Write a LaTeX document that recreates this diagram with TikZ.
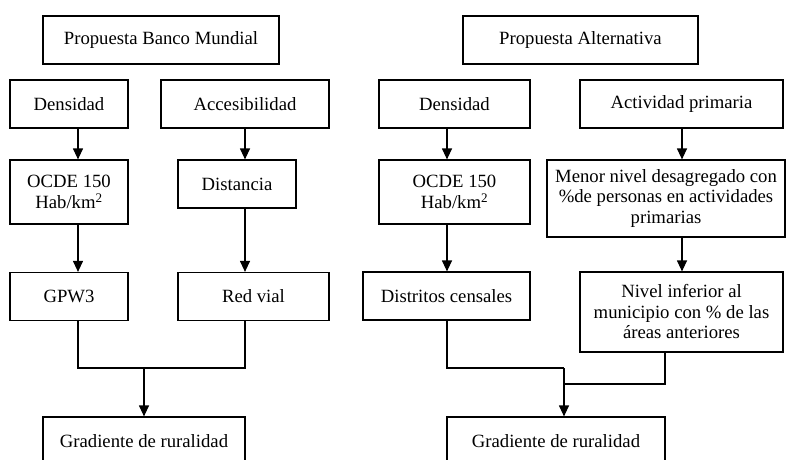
\documentclass[tikz,border=0pt]{standalone}
\usepackage{fontspec}
\setmainfont{Liberation Serif}
\usetikzlibrary{arrows.meta}
\begin{document}
\begin{tikzpicture}[x=1pt,y=-1pt,
  box/.style={draw, line width=1.2pt, inner sep=0pt, align=center, minimum height=48pt,
    font=\fontsize{18.7}{20.5}\selectfont},
  link/.style={line width=1.2pt},
  arr/.style={line width=1.2pt, -{Triangle[width=10pt,length=11pt]}}]
\path[use as bounding box, clip] (0,0) rectangle (787,460);
% left column
\node[box, minimum width=236pt] (pbm) at (161,40) {Propuesta Banco Mundial};
\node[box, minimum width=118pt] (dl) at (69,104) {Densidad};
\node[box, minimum width=168pt] (acc) at (245,104) {Accesibilidad};
\node[box, minimum width=118pt, minimum height=64pt] (ol) at (69,192) {OCDE 150\\Hab/km\textsuperscript{2}};
\node[box, minimum width=118pt] (dis) at (237,184) {Distancia};
\node[box, minimum width=118pt] (gpw) at (69,296.5) {GPW3};
\node[box, minimum width=151pt] (rv) at (253.5,296.5) {Red vial};
\node[box, minimum width=202pt] (gl) at (144,441) {Gradiente de ruralidad};
% right column
\node[box, minimum width=235pt] (pa) at (580.5,40) {Propuesta Alternativa};
\node[box, minimum width=151pt] (dr) at (454.5,104) {Densidad};
\node[box, minimum width=203pt] (act) at (681.5,104) {Actividad primaria};
\node[box, minimum width=151pt, minimum height=64pt] (or) at (454.5,192) {OCDE 150\\Hab/km\textsuperscript{2}};
\node[box, minimum width=238pt, minimum height=77pt] (men) at (666,198.5) {Menor nivel desagregado con\\\%de personas en actividades\\primarias};
\node[box, minimum width=167pt] (dc) at (446.5,296) {Distritos censales};
\node[box, minimum width=203pt, minimum height=80pt] (niv) at (681.5,312) {Nivel inferior al\\municipio con \% de las\\áreas anteriores};
\node[box, minimum width=218pt] (gr) at (556,441) {Gradiente de ruralidad};
% guide coordinates
\coordinate (xa) at (78,0);
\coordinate (xb) at (245,0);
\coordinate (xc) at (447,0);
\coordinate (xd) at (682,0);
\coordinate (xe) at (665,0);
\coordinate (jl) at (144,368);
\coordinate (jr) at (564,368);
\coordinate (jr2) at (665,384);
% left connectors
\draw[arr] (dl.south -| xa) -- (ol.north -| xa);
\draw[arr] (ol.south -| xa) -- (gpw.north -| xa);
\draw[arr] (acc.south -| xb) -- (dis.north -| xb);
\draw[arr] (dis.south -| xb) -- (rv.north -| xb);
\draw[link] (gpw.south -| xa) -- (xa |- jl) -- (xb |- jl) -- (rv.south -| xb);
\draw[arr] (jl) -- (gl.north -| jl);
% right connectors
\draw[arr] (dr.south -| xc) -- (or.north -| xc);
\draw[arr] (or.south -| xc) -- (dc.north -| xc);
\draw[arr] (act.south -| xd) -- (men.north -| xd);
\draw[arr] (men.south -| xd) -- (niv.north -| xd);
\draw[link] (dc.south -| xc) -- (xc |- jr) -- (jr);
\draw[link] (niv.south -| xe) -- (jr2) -- (jr |- jr2);
\draw[arr] (jr) -- (gr.north -| jr);
\end{tikzpicture}
\end{document}
